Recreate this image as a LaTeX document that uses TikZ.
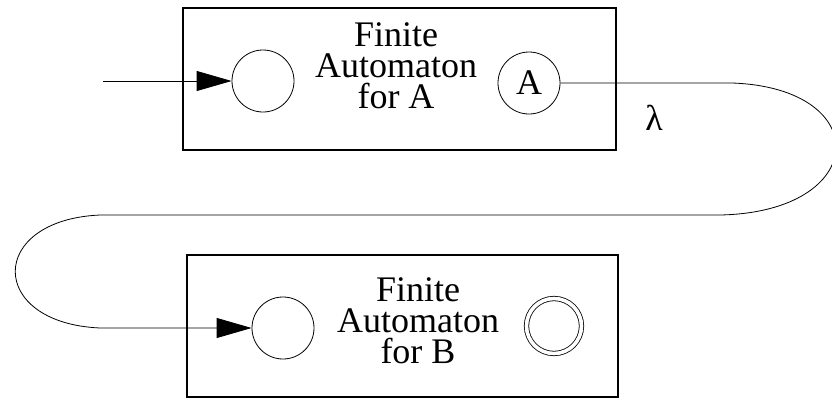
\documentclass[tikz,border=0pt]{standalone}
\usepackage{fontspec}
\setmainfont{Liberation Serif}
\usetikzlibrary{arrows.meta}

\begin{document}
\begin{tikzpicture}[x=1pt, y=-1pt,
        box/.style={draw, line width=1.3pt, rectangle, inner sep=0pt},
        state/.style={draw, circle, line width=0.8pt, minimum size=62pt, inner sep=0pt,
            font=\fontsize{36}{31}\selectfont},
        accepting/.style={draw, circle, double, line width=0.8pt, double distance=3.6pt,
            minimum size=55pt, inner sep=0pt},
        label/.style={inner sep=0pt, align=center, font=\fontsize{36}{31}\selectfont},
        trans/.style={line width=0.8pt, -{Triangle[length=35pt, width=20pt]}}]
    \useasboundingbox (0,0) rectangle (832,399);

    % machine for A
    \node[box, minimum width=433pt, minimum height=142pt] (boxA) at (399.5,79) {};
    \node[state] (startA) at (263,81) {};
    \node[label] (textA) at (396,66) {Finite\\Automaton\\for A};
    \node[state] (finalA) at (529,83) {A};

    % machine for B
    \node[box, minimum width=431pt, minimum height=142pt] (boxB) at (402.5,326) {};
    \node[state] (startB) at (283,328) {};
    \node[label] (textB) at (418,321) {Finite\\Automaton\\for B};
    \node[accepting] (acceptB) at (554,326) {};

    % connectors
    \coordinate (inA) at (103,81);
    \coordinate (turnR1) at (732,83);
    \coordinate (turnR2) at (720,215);
    \coordinate (turnL1) at (100,215);
    \coordinate (turnL2) at (100,328);
    \draw[trans] (inA) -- (startA);
    \draw[trans] (finalA.east) -- (turnR1) .. controls (875,88) and (870,212) .. (turnR2)
        -- (turnL1) .. controls (-13,220) and (-13,323) .. (turnL2) -- (startB.west);
    \node[label] (lambda) at (654,118) {λ};
\end{tikzpicture}
\end{document}
